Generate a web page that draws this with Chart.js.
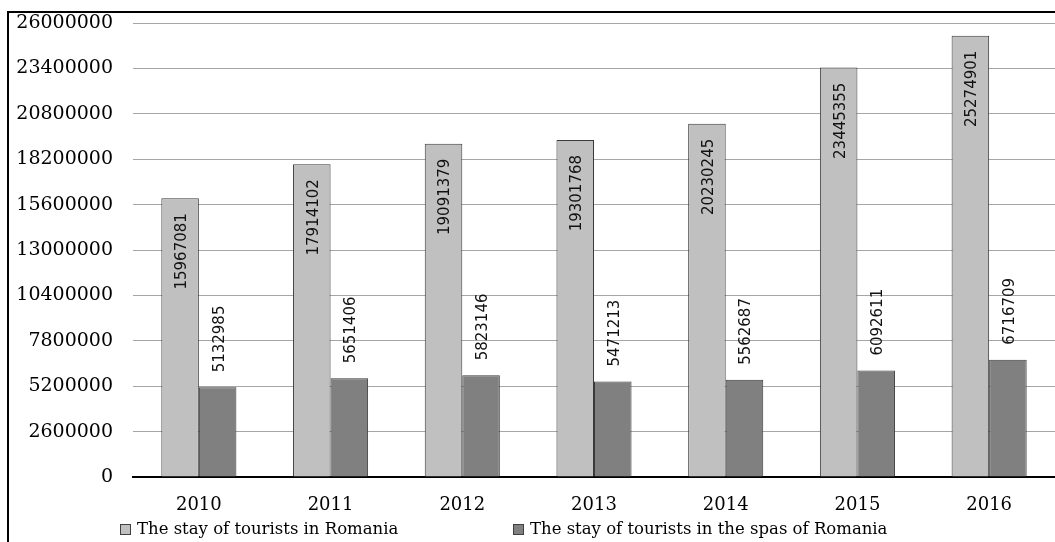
<!DOCTYPE html>
<html>
<head>
<meta charset="utf-8">
<title>Tourist stays in Romania 2010-2016</title>
<script src="https://cdn.jsdelivr.net/npm/chart.js@4/dist/chart.umd.min.js"></script>
<style>
  html, body { margin: 0; padding: 0; background: #fff; overflow: hidden; }
  #wrap { position: relative; width: 1055px; height: 542px; }
  #frame {
    position: absolute; left: 7px; top: 11px; width: 1100px; height: 600px;
    border: 2px solid #000; pointer-events: none;
  }
</style>
</head>
<body>
<div id="wrap">
  <canvas id="chart" width="1055" height="542"></canvas>
  <div id="frame"></div>
</div>
<script>
// --- data ---
const years = ['2010', '2011', '2012', '2013', '2014', '2015', '2016'];
const staysRomania = [15967081, 17914102, 19091379, 19301768, 20230245, 23445355, 25274901];
const staysSpas    = [5132985, 5651406, 5823146, 5471213, 5562687, 6092611, 6716709];
const seriesNames  = ['The stay of tourists in Romania', 'The stay of tourists in the spas of Romania'];
const yTicks = [0, 2600000, 5200000, 7800000, 10400000, 13000000, 15600000, 18200000, 20800000, 23400000, 26000000];

const SERIF = '"DejaVu Serif", Georgia, serif';
const SANS  = '"DejaVu Sans", sans-serif';

// vertical value labels: inside the top of light bars, above the dark bars
const barLabels = {
  id: 'barLabels',
  afterDatasetsDraw(chart) {
    const ctx = chart.ctx;
    ctx.save();
    ctx.font = '15px ' + SANS;
    ctx.fillStyle = '#111';
    ctx.textBaseline = 'middle';
    chart.data.datasets.forEach((ds, di) => {
      chart.getDatasetMeta(di).data.forEach((bar, i) => {
        const txt = String(ds.data[i]);
        ctx.save();
        if (di === 0) {
          ctx.translate(bar.x + 2, bar.y + 15);
          ctx.rotate(-Math.PI / 2);
          ctx.textAlign = 'right';
        } else {
          ctx.translate(bar.x + 2, bar.y - 15);
          ctx.rotate(-Math.PI / 2);
          ctx.textAlign = 'left';
        }
        ctx.fillText(txt, 0, 0);
        ctx.restore();
      });
    });
    ctx.restore();
  }
};

// legend along the bottom edge
const bottomLegend = {
  id: 'bottomLegend',
  afterDraw(chart) {
    const ctx = chart.ctx;
    const xs = [120, 513];
    const y = 530;
    ctx.save();
    ctx.font = '16.5px ' + SERIF;
    ctx.textBaseline = 'middle';
    ctx.textAlign = 'left';
    chart.data.datasets.forEach((ds, i) => {
      ctx.fillStyle = ds.backgroundColor;
      ctx.fillRect(xs[i] + 0.5, y - 5.5, 10, 10);
      ctx.strokeStyle = '#404040';
      ctx.lineWidth = 1;
      ctx.strokeRect(xs[i] + 0.5, y - 5.5, 10, 10);
      ctx.fillStyle = '#000';
      ctx.fillText(ds.label, xs[i] + 17, y);
    });
    ctx.restore();
  }
};

new Chart(document.getElementById('chart'), {
  type: 'bar',
  data: {
    labels: years,
    datasets: [
      {
        label: seriesNames[0],
        data: staysRomania,
        backgroundColor: '#c0c0c0',
        borderColor: '#3a3a3a',
        borderWidth: 1
      },
      {
        label: seriesNames[1],
        data: staysSpas,
        backgroundColor: '#808080',
        borderColor: '#3a3a3a',
        borderWidth: 1
      }
    ]
  },
  options: {
    responsive: false,
    animation: false,
    layout: { padding: { top: 23, left: 8, right: 0, bottom: 0 } },
    categoryPercentage: 0.57,
    barPercentage: 1.0,
    plugins: {
      legend: { display: false },
      tooltip: { enabled: false }
    },
    scales: {
      x: {
        grid: { display: false },
        border: { display: true, color: '#000', width: 2 },
        ticks: {
          color: '#000',
          font: { family: SERIF, size: 18 },
          padding: 10,
          maxRotation: 0
        },
        afterFit(scale) { scale.height = 65; }
      },
      y: {
        min: 0,
        max: 26000000,
        afterBuildTicks(scale) { scale.ticks = yTicks.map(v => ({ value: v })); },
        grid: { color: '#a6a6a6', lineWidth: 1, drawTicks: false },
        border: { display: false },
        ticks: {
          color: '#000',
          font: { family: SERIF, size: 19, lineHeight: 1 },
          padding: 20,
          callback: v => String(v)
        },
        // tick padding would otherwise be added above the top gridline
        afterFit(scale) { scale.width = 125; scale.paddingTop = 10; scale.paddingBottom = 10; }
      }
    }
  },
  plugins: [barLabels, bottomLegend]
});
</script>
</body>
</html>
